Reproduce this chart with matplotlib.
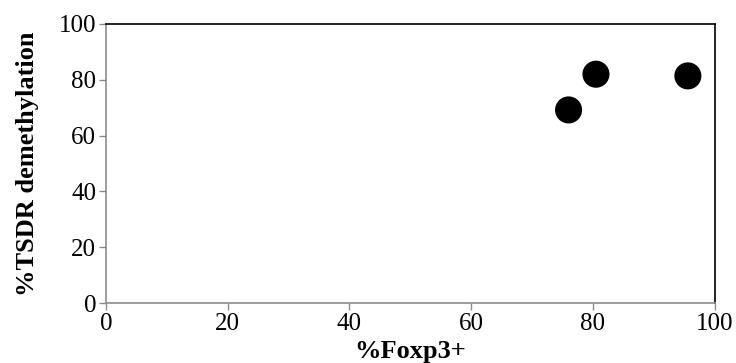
import numpy as np
import matplotlib.pyplot as plt

foxp3 = [76.0, 80.5, 95.6]
tsdr = [69.2, 82.0, 81.4]

plt.rcParams['font.family'] = ['Liberation Serif', 'DejaVu Serif']

fig = plt.figure(figsize=(7.36, 3.63), dpi=100)
ax = fig.add_axes([0.144, 0.165, 0.827, 0.769])

ax.scatter(foxp3, tsdr, s=380, color='black', zorder=3, edgecolors='none')

ax.set_xlim(0, 100)
ax.set_ylim(0, 100)
ax.set_xticks(np.arange(0, 101, 20))
ax.set_yticks(np.arange(0, 101, 20))

for side in ['left', 'bottom']:
    ax.spines[side].set_color('#8c8c8c')
    ax.spines[side].set_linewidth(1.2)
for side in ['top', 'right']:
    ax.spines[side].set_color('black')
    ax.spines[side].set_linewidth(1.2)

ax.tick_params(axis='both', direction='out', length=5, width=1, color='#8c8c8c',
               labelsize=18, pad=2)

ax.set_xlabel('%Foxp3+', fontsize=19, fontweight='bold', labelpad=4)
ax.set_ylabel('%TSDR demethylation', fontsize=19, fontweight='bold', labelpad=14)

fig.savefig('out.png', dpi=100)
